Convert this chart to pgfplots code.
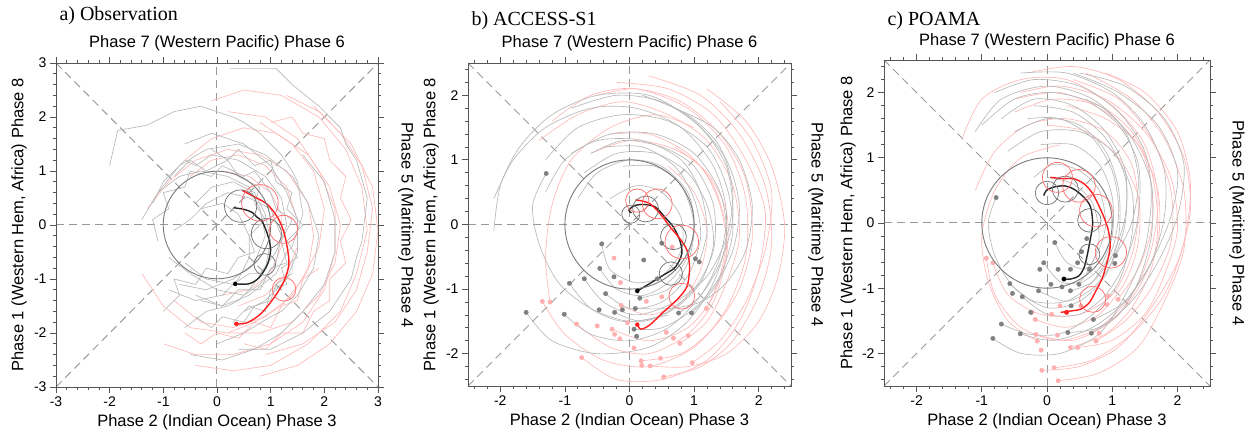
\documentclass[border=0pt]{standalone}
\usepackage{fontspec}
\setmainfont{Liberation Sans}
\newfontfamily\timesf{Liberation Serif}
\usepackage{pgfplots}
\pgfplotsset{compat=1.18}
\definecolor{framec}{HTML}{555555}
\definecolor{dashc}{HTML}{9A9A9A}
\definecolor{spgray}{HTML}{B8B8B8}
\definecolor{sppink}{HTML}{FFB8B8}
\definecolor{mainred}{HTML}{FF1E1E}
\definecolor{circred}{HTML}{FF6A6A}
\definecolor{circgray}{HTML}{707070}
\definecolor{unitc}{HTML}{7A7A7A}
\definecolor{dotgray}{HTML}{808080}
\definecolor{dotpink}{HTML}{FFAFAF}
\tikzset{lab/.style={font=\fontsize{16.5}{19}\selectfont},
  ttl/.style={font=\timesf\fontsize{20}{22}\selectfont, anchor=west},
  tk/.style={draw=framec, line width=0.8pt}}
\newcommand{\frameticks}[2]{%
  \draw[draw=framec, line width=0.9pt] (axis description cs:0,0) rectangle (axis description cs:1,1);
  \foreach \f in #1{
    \draw[tk] (axis description cs:\f,0) -- ++(0,-6pt);
    \draw[tk] (axis description cs:\f,1) -- ++(0,6pt);
    \draw[tk] (axis description cs:0,\f) -- ++(-6pt,0);
    \draw[tk] (axis description cs:1,\f) -- ++(6pt,0);
  }
  \foreach \f in #2{
    \draw[tk] (axis description cs:\f,0) -- ++(0,-3pt);
    \draw[tk] (axis description cs:\f,1) -- ++(0,3pt);
    \draw[tk] (axis description cs:0,\f) -- ++(-3pt,0);
    \draw[tk] (axis description cs:1,\f) -- ++(3pt,0);
  }}
\newcommand{\majA}{0,0.166667,0.333333,0.5,0.666667,0.833333,1}
\newcommand{\minA}{0.033333,0.066667,0.1,0.133333,0.2,0.233333,0.266667,0.3,0.366667,0.4,0.433333,0.466667,0.533333,0.566667,0.6,0.633333,0.7,0.733333,0.766667,0.8,0.866667,0.9,0.933333,0.966667}
\newcommand{\majB}{0.1,0.3,0.5,0.7,0.9}
\newcommand{\minB}{0.02,0.06,0.14,0.18,0.22,0.26,0.34,0.38,0.42,0.46,0.54,0.58,0.62,0.66,0.74,0.78,0.82,0.86,0.94,0.98}
\pgfplotsset{
  mjo/.style={scale only axis, axis on top, axis line style={draw=framec,line width=0.9pt},
    every tick/.style={draw=framec,line width=0.8pt}, tick align=outside,
    major tick length=6pt, minor tick length=3pt,
    ticklabel style={font=\fontsize{14}{16}\selectfont, text=black},
    clip=true},
  gl/.style={no marks, draw=spgray, line width=0.65pt},
  pl/.style={no marks, draw=sppink, line width=0.65pt},
  gls/.style={gl, smooth},
  pls/.style={pl, smooth},
  guide/.style={no marks, draw=dashc, line width=1pt, dash pattern=on 8pt off 5pt},
  circ/.style 2 args={only marks, mark=o, scatter, scatter/use mapped color={draw=#1, fill=none},
    mark options={line width=0.7pt},
    visualization depends on={#2*\thisrow{r} \as \crad},
    scatter/@pre marker code/.append style={/tikz/mark size=\crad}},
  mainblack/.style={no marks, draw=black!85, line width=1.4pt, smooth},
  mainr/.style={no marks, draw=mainred, line width=1.4pt, smooth},
}
\begin{document}
\begin{tikzpicture}
\useasboundingbox (0,0) rectangle (1250pt,431pt);
% ---------------- panel a ----------------
\begin{axis}[mjo, at={(56pt,44pt)}, anchor=south west, width=322pt, height=324pt,
  xmin=-3, xmax=3, ymin=-3, ymax=3,
  xtick={-3,...,3}, xticklabels={-3,-2,-1,0,1,2,3},
  ytick={-3,...,3}, yticklabels={-3,-2,-1,0,1,2,3},
  extra description/.code={
    \frameticks{\majA}{\minA}
    \node[lab] at ([yshift=20pt]axis description cs:0.5,1) {Phase 7 (Western Pacific) Phase 6};
    \node[lab] at ([yshift=-35pt]axis description cs:0.5,0) {Phase 2 (Indian Ocean) Phase 3};
    \node[lab, rotate=90] at ([xshift=-37pt]axis description cs:0,0.5) {Phase 1 (Western Hem, Africa) Phase 8};
    \node[lab, rotate=-90] at ([xshift=28pt]axis description cs:1,0.5) {Phase 5 (Maritime) Phase 4};
    \node[ttl] at ([yshift=47pt]axis description cs:0,1) {a) Observation};
  }]
\addplot[guide] coordinates {(-3,0) (3,0)};
\addplot[guide] coordinates {(0,-3) (0,3)};
\addplot[guide] coordinates {(-3,-3) (3,3)};
\addplot[guide] coordinates {(-3,3) (3,-3)};
% pink spaghetti
\addplot[pl] coordinates {(-0.4,-2.6) (0.3,-2.7) (1.0,-2.6) (1.7,-2.2) (2.3,-1.6) (2.6,-0.9) (2.8,-0.1) (2.7,0.7) (2.4,1.4) (1.9,2.0) (1.2,2.4) (0.5,2.5) (-0.1,2.3)};
\addplot[pl] coordinates {(0.2,-2.0) (0.8,-2.0) (1.4,-1.8) (1.9,-1.3) (2.2,-0.7) (2.3,0.0) (2.1,0.7) (1.7,1.3) (1.1,1.7) (0.5,1.8) (-0.1,1.6) (-0.6,1.2)};
\addplot[pl] coordinates {(-0.8,-1.4) (-0.3,-1.8) (0.3,-1.9) (0.9,-1.7) (1.4,-1.3) (1.7,-0.8) (1.8,-0.2) (1.7,0.4) (1.3,1.0) (0.8,1.3) (0.2,1.4) (-0.4,1.2) (-0.9,0.8) (-1.3,0.3)};
\addplot[pl] coordinates {(0.8,-2.8) (1.5,-2.6) (2.1,-2.2) (2.6,-1.6) (2.9,-0.9) (3.0,-0.1) (2.9,0.7) (2.5,1.5) (1.9,2.1) (1.3,2.4)};
\addplot[pl] coordinates {(0.4,-1.5) (0.9,-1.3) (1.3,-0.9) (1.5,-0.4) (1.5,0.1) (1.3,0.7) (0.9,1.1) (0.4,1.3) (-0.1,1.2) (-0.5,0.9)};
\addplot[pl] coordinates {(-1.0,-2.2) (-0.4,-2.4) (0.3,-2.4) (1.0,-2.2) (1.6,-1.8) (2.0,-1.2) (2.2,-0.5) (2.2,0.3) (1.9,1.0) (1.5,1.6) (0.9,2.0) (0.2,2.1)};
\addplot[pl] coordinates {(-1.4,-0.9) (-1.0,-1.5) (-0.5,-1.9) (0.2,-2.0) (0.7,-1.8) (1.2,-1.5) (1.6,-1.0) (1.9,-0.4) (2.0,0.3) (1.8,1.0) (1.4,1.5) (0.8,1.9)};
\addplot[pl] coordinates {(0.9,-2.4) (1.6,-2.2) (2.2,-1.8) (2.6,-1.2) (2.8,-0.5) (2.9,0.3) (2.7,1.1) (2.3,1.7) (1.8,2.2)};
\addplot[pl] coordinates {(0.1,-1.3) (0.6,-1.2) (1.0,-0.9) (1.2,-0.4) (1.2,0.2) (1.0,0.6) (0.6,0.9) (0.1,1.0)};
\addplot[pl] coordinates {(0.5,-2.2) (0.9,-2.3) (1.2,-2.0) (1.6,-2.0) (1.8,-1.6) (2.1,-1.4) (2.1,-1.0) (2.4,-0.7) (2.3,-0.3) (2.5,0.1) (2.3,0.5) (2.4,0.9) (2.1,1.2) (2.0,1.6) (1.6,1.7) (1.4,2.0) (1.0,1.9)};
\addplot[pl] coordinates {(-0.6,-2.0) (-0.3,-2.2) (0.0,-2.0) (0.4,-2.1) (0.7,-1.8) (1.0,-1.9) (1.2,-1.5) (1.5,-1.4) (1.6,-1.0) (1.9,-0.8)};
% gray spaghetti
\addplot[gl] coordinates {(-2.0,1.1) (-1.85,1.75) (-1.3,1.85) (-1.0,2.0) (-0.8,2.1) (-0.3,2.2) (0.3,2.0) (0.5,1.9) (0.8,1.7) (1.2,1.3) (1.4,1.0) (1.5,0.8) (1.6,0.2) (1.4,-0.4) (1.3,-0.5) (1.1,-0.9) (0.6,-1.3) (0.1,-1.5) (-0.4,-1.3)};
\addplot[gl] coordinates {(0.25,2.9) (1.1,2.9) (1.4,2.6) (1.9,2.2) (2.3,1.8) (2.4,1.5) (2.6,1.2) (2.8,0.5) (2.7,-0.3) (2.6,-0.6) (2.5,-1.0) (2.1,-1.6) (1.6,-2.0) (1.0,-2.3) (0.4,-2.3)};
\addplot[gl] coordinates {(-1.2,0.4) (-1.0,0.8) (-0.6,1.2) (-0.4,1.1) (-0.1,1.3) (0.4,1.2) (0.9,0.9) (1.2,0.5) (1.3,0.0) (1.1,-0.5) (0.8,-0.9) (0.6,-0.9) (0.3,-1.1) (-0.2,-1.0) (-0.6,-0.7)};
\addplot[gl] coordinates {(-0.6,-1.9) (-0.2,-1.6) (0.2,-1.5) (0.4,-1.4) (0.6,-1.2) (0.9,-0.8) (1.0,-0.3) (0.9,0.2) (0.7,0.6) (0.3,0.8) (-0.1,0.7) (-0.4,0.4)};
\addplot[gl] coordinates {(0.0,-2.2) (0.5,-2.0) (1.0,-1.7) (1.2,-1.6) (1.5,-1.3) (1.8,-0.8) (1.9,-0.2) (1.7,0.4) (1.4,0.9) (0.9,1.3) (0.4,1.5) (-0.2,1.4) (-0.7,1.1) (-1.1,0.6)};
\addplot[gl] coordinates {(-0.9,-0.6) (-0.5,-0.9) (0,-1.2) (0.5,-1.3) (0.8,-1.1) (1.1,-0.7) (1.2,-0.2) (1.0,0.3) (0.6,0.5) (0.2,0.6) (-0.2,0.4) (-0.5,0.1) (-0.8,-0.1)};
\addplot[gl] coordinates {(-1.4,0.1) (-1.1,0.6) (-0.7,0.9) (-0.3,1.0) (0.2,0.9) (0.6,0.7) (0.8,0.3) (0.9,-0.2) (0.7,-0.7) (0.3,-1.0) (-0.2,-1.2) (-0.7,-1.1)};
\addplot[gl] coordinates {(0.5,-1.6) (0.9,-1.4) (1.3,-1.0) (1.5,-0.5) (1.5,0.1) (1.3,0.6) (1.0,1.1) (0.5,1.5) (-0.1,1.7) (-0.6,1.5)};
\addplot[gl] coordinates {(-0.9,-1.2) (-0.4,-1.4) (0.1,-1.3) (0.4,-1.0) (0.6,-0.6) (0.6,-0.2) (0.4,0.2) (0.1,0.4) (-0.3,0.3)};
\addplot[gl] coordinates {(-0.5,-2.4) (0.1,-2.5) (0.7,-2.3) (1.2,-2.0) (1.6,-1.6) (2.0,-1.1) (2.2,-0.5) (2.2,0.1) (2.0,0.8) (1.6,1.3)};
\addplot[gl] coordinates {(-1.0,-1.6) (-0.7,-1.3) (-0.8,-1.0) (-0.4,-1.1) (-0.2,-0.8) (0.2,-0.9) (0.4,-0.6) (0.7,-0.5) (0.6,-0.2) (0.9,0.1) (0.7,0.4) (0.8,0.7) (0.4,0.9) (0.2,1.2) (-0.2,1.0) (-0.5,1.2) (-0.8,0.9)};
\addplot[gl] coordinates {(-1.1,-0.3) (-1.2,0.1) (-0.9,0.3) (-1.0,0.6) (-0.6,0.7) (-0.5,1.0) (-0.1,0.9) (0.1,1.1) (0.5,0.9) (0.7,1.0) (1.0,0.6) (1.1,0.3) (1.4,0.1) (1.2,-0.3) (1.3,-0.7) (1.0,-0.8) (0.8,-1.2) (0.4,-1.2) (0.1,-1.5) (-0.3,-1.4)};
\addplot[gl] coordinates {(0.3,-1.8) (0.6,-1.5) (0.9,-1.6) (1.0,-1.2) (1.3,-1.1) (1.2,-0.8) (1.5,-0.6) (1.3,-0.3) (1.6,0.0) (1.3,0.3) (1.4,0.6) (1.1,0.8) (1.0,1.2) (0.7,1.1) (0.4,1.4) (0.2,1.2) (-0.1,1.4)};
\addplot[gl] coordinates {(-0.4,-1.7) (-0.1,-1.9) (0.1,-1.7) (0.5,-1.8) (0.7,-1.5) (1.0,-1.4) (1.1,-1.1) (1.4,-0.9) (1.4,-0.6)};
% unit circle
\addplot[circ={unitc}{53.8}, mark options={line width=0.9pt}] table[row sep=\\] {x y r\\ 0 0 1\\};
% uncertainty circles
\addplot[circ={circgray}{53.8}] table[row sep=\\] {x y r\\ 0.44 0.35 0.30\\ 0.92 -0.16 0.28\\ 0.89 -0.73 0.20\\};
\addplot[circ={circred}{53.8}] table[row sep=\\] {x y r\\ 0.80 0.41 0.34\\ 1.24 -0.08 0.26\\ 1.25 -1.19 0.22\\};
% mean trajectories
\addplot[mainblack] coordinates {(0.34,-1.09) (0.59,-1.09) (0.78,-0.98) (0.94,-0.73) (1.0,-0.45) (0.94,-0.17) (0.84,0.07) (0.75,0.14) (0.66,0.23) (0.5,0.29) (0.31,0.32)};
\addplot[mainr] coordinates {(0.36,-1.83) (0.56,-1.81) (0.81,-1.65) (1.06,-1.35) (1.25,-1.04) (1.34,-0.73) (1.31,-0.42) (1.24,-0.11) (1.13,0.14) (0.94,0.38) (0.72,0.51) (0.47,0.64)};
\addplot[only marks, mark=*, mark size=2pt, color=black] coordinates {(0.34,-1.09)};
\addplot[only marks, mark=*, mark size=2pt, color=mainred] coordinates {(0.36,-1.83)};
\end{axis}
% ---------------- panel b ----------------
\begin{axis}[mjo, at={(468pt,45pt)}, anchor=south west, width=323pt, height=323pt,
  xmin=-2.5, xmax=2.5, ymin=-2.5, ymax=2.5,
  xtick={-2,...,2}, xticklabels={-2,-1,0,1,2},
  ytick={-2,...,2}, yticklabels={-2,-1,0,1,2},
  extra description/.code={
    \frameticks{\majB}{\minB}
    \node[lab] at ([yshift=20pt]axis description cs:0.5,1) {Phase 7 (Western Pacific) Phase 6};
    \node[lab] at ([yshift=-35pt]axis description cs:0.5,0) {Phase 2 (Indian Ocean) Phase 3};
    \node[lab, rotate=90] at ([xshift=-37pt]axis description cs:0,0.5) {Phase 1 (Western Hem, Africa) Phase 8};
    \node[lab, rotate=-90] at ([xshift=25pt]axis description cs:1,0.5) {Phase 5 (Maritime) Phase 4};
    \node[ttl] at ([yshift=42pt]axis description cs:0,1) {b) ACCESS-S1};
  }]
\addplot[guide] coordinates {(-2.5,0) (2.5,0)};
\addplot[guide] coordinates {(0,-2.5) (0,2.5)};
\addplot[guide] coordinates {(-2.5,-2.5) (2.5,2.5)};
\addplot[guide] coordinates {(-2.5,2.5) (2.5,-2.5)};
% pink spaghetti
\addplot[pls] coordinates {(-1.35,-1.19) (-1.0,-1.7) (-0.4,-2.1) (0.3,-2.2) (1.0,-1.9) (1.5,-1.3) (1.8,-0.5) (1.8,0.4) (1.5,1.2) (0.9,1.8) (0.1,2.1) (-0.6,2.0) (-1.2,1.6)};
\addplot[pls] coordinates {(-0.74,-2.06) (-0.2,-2.4) (0.5,-2.4) (1.2,-2.1) (1.7,-1.5) (2.0,-0.7) (2.1,0.2) (1.8,1.0) (1.3,1.7) (0.6,2.1) (-0.2,2.2)};
\addplot[pls] coordinates {(0.53,-2.36) (1.1,-2.2) (1.6,-1.8) (2.0,-1.1) (2.2,-0.3) (2.1,0.6) (1.7,1.4) (1.1,2.0) (0.3,2.3)};
\addplot[pls] coordinates {(0.97,-2.14) (1.4,-1.8) (1.8,-1.2) (2.1,-0.4) (2.2,0.5) (1.9,1.3) (1.4,1.9)};
\addplot[pls] coordinates {(-0.27,-1.62) (0.3,-1.8) (0.9,-1.6) (1.3,-1.1) (1.5,-0.4) (1.4,0.3) (1.1,0.9) (0.6,1.2) (0.0,1.3) (-0.6,1.1)};
\addplot[pls] coordinates {(0.78,-1.84) (1.2,-1.5) (1.5,-0.9) (1.7,-0.2) (1.6,0.6) (1.2,1.3) (0.6,1.7) (-0.1,1.9) (-0.8,1.7) (-1.4,1.3)};
\addplot[pls] coordinates {(-0.82,-1.54) (-0.3,-1.9) (0.3,-2.0) (0.9,-1.7) (1.3,-1.2) (1.5,-0.5) (1.5,0.2) (1.2,0.8) (0.7,1.2)};
\addplot[pls] coordinates {(0.18,-2.11) (0.8,-2.0) (1.3,-1.6) (1.7,-1.0) (1.9,-0.2) (1.8,0.7) (1.4,1.4) (0.8,1.9) (0.1,2.1) (-0.5,2.0)};
\addplot[pls] coordinates {(1.19,-1.3) (1.4,-0.8) (1.5,-0.1) (1.3,0.6) (0.9,1.1) (0.3,1.4) (-0.3,1.4)};
\addplot[pls] coordinates {(-0.13,-1.25) (0.3,-1.4) (0.8,-1.2) (1.1,-0.7) (1.2,-0.1) (1.0,0.5) (0.6,0.9)};
\addplot[pls] coordinates {(-1.23,-1.2) (-1.3,-0.5) (-1.2,0.3) (-0.9,1.0) (-0.3,1.5) (0.4,1.7) (1.0,1.5)};
\addplot[pls] coordinates {(0.32,-2.19) (0.9,-2.2) (1.5,-2.0) (2.0,-1.5) (2.3,-0.8) (2.4,0.0) (2.2,0.9) (1.8,1.6) (1.2,2.1)};
% gray spaghetti
\addplot[gls] coordinates {(-1.6,-1.36) (-1.2,-1.8) (-0.5,-2.0) (0.3,-1.9) (0.9,-1.5) (1.3,-0.9) (1.5,-0.2) (1.4,0.5) (1.0,1.1) (0.4,1.4) (-0.3,1.4) (-0.9,1.1)};
\addplot[gls] coordinates {(-1.01,-1.39) (-0.6,-1.7) (0.0,-1.8) (0.6,-1.6) (1.1,-1.1) (1.4,-0.5) (1.5,0.2) (1.3,0.9) (0.8,1.5) (0.1,1.8) (-0.6,1.8) (-1.3,1.5) (-1.8,1.0) (-2.1,0.4)};
\addplot[gls] coordinates {(-0.46,-0.68) (-0.2,-1.0) (0.2,-1.1) (0.6,-0.9) (0.9,-0.5) (1.0,0.0) (0.9,0.5) (0.5,0.9) (0.0,1.0) (-0.5,0.8) (-0.8,0.4)};
\addplot[gls] coordinates {(0.07,-1.62) (0.5,-1.6) (1.0,-1.3) (1.4,-0.8) (1.6,-0.1) (1.5,0.6) (1.2,1.2) (0.6,1.6) (-0.1,1.7) (-0.8,1.5) (-1.3,1.0)};
\addplot[gls] coordinates {(0.96,-1.37) (1.3,-1.0) (1.6,-0.4) (1.7,0.3) (1.5,1.0) (1.0,1.6) (0.3,2.0) (-0.5,2.0) (-1.2,1.7) (-1.7,1.2) (-2.0,0.6) (-2.1,-0.1)};
\addplot[gls] coordinates {(-0.23,-1.36) (0.2,-1.5) (0.7,-1.3) (1.1,-0.9) (1.3,-0.3) (1.2,0.3) (0.9,0.8) (0.4,1.1) (-0.2,1.1) (-0.7,0.8)};
\addplot[gls] coordinates {(-0.93,-0.91) (-0.6,-1.3) (-0.1,-1.5) (0.5,-1.4) (1.0,-1.0) (1.3,-0.4) (1.3,0.3) (1.0,0.9) (0.5,1.2) (-0.1,1.3) (-0.6,1.1)};
\addplot[gls] coordinates {(1.08,-0.58) (1.2,-0.1) (1.1,0.5) (0.8,1.0) (0.2,1.3) (-0.5,1.3) (-1.0,1.0) (-1.3,0.5)};
\addplot[gls] coordinates {(-0.37,-1.07) (0.0,-1.3) (0.5,-1.2) (0.9,-0.8) (1.1,-0.2) (1.0,0.4) (0.7,0.9) (0.2,1.2) (-0.4,1.2)};
\addplot[gls] coordinates {(0.76,-1.37) (1.1,-1.1) (1.4,-0.6) (1.6,0.1) (1.5,0.9) (1.1,1.5) (0.5,1.9) (-0.2,2.0) (-0.9,1.8)};
\addplot[gls] coordinates {(0.16,-1.14) (0.6,-1.0) (0.9,-0.6) (1.0,0.0) (0.8,0.6) (0.4,0.9) (-0.1,0.9)};
\addplot[gls] coordinates {(-0.7,-0.84) (-0.4,-1.2) (0.1,-1.4) (0.7,-1.2) (1.2,-0.8) (1.5,-0.2) (1.6,0.5) (1.4,1.2) (0.9,1.7) (0.2,2.0)};
\addplot[gls] coordinates {(-1.29,0.79) (-1.5,0.3) (-1.4,-0.3) (-1.1,-0.9) (-0.6,-1.3) (0.0,-1.5) (0.6,-1.4)};
\addplot[gls] coordinates {(-0.43,-0.3) (-0.3,-0.7) (0.1,-0.9) (0.5,-0.8) (0.8,-0.4) (0.8,0.1) (0.5,0.5) (0.1,0.6) (-0.3,0.4)};
\addplot[gls] coordinates {(0.09,-1.3) (0.6,-1.3) (1.1,-1.2) (1.5,-0.9) (1.8,-0.4) (1.9,0.3) (1.7,1.0) (1.3,1.5) (0.7,1.8)};
% dots
\addplot[only marks, mark=*, mark size=2.2pt, color=dotpink] coordinates {(-1.35,-1.19) (-1.23,-1.2) (-0.82,-1.54) (-0.74,-2.06) (-0.5,-1.57) (-0.27,-1.62) (-0.23,-1.7) (-0.15,-1.77) (-0.13,-1.25) (-0.03,-1.52) (0.07,-1.91) (0.18,-2.11) (0.19,-2.18) (0.32,-2.19) (0.48,-2.07) (0.53,-2.36) (0.57,-1.67) (0.68,-1.76) (0.78,-1.84) (0.91,-1.72) (0.97,-2.14) (1.19,-1.3) (-0.24,-0.52) (0.66,-0.35) (-0.14,-0.9) (0.5,-1.12) (0.26,-1.19)};
\addplot[only marks, mark=*, mark size=2.2pt, color=dotgray] coordinates {(-1.29,0.79) (-0.43,-0.3) (-0.46,-0.68) (-0.7,-0.84) (-0.24,-0.81) (-0.93,-0.91) (-0.37,-1.07) (-1.6,-1.36) (-1.01,-1.39) (-0.47,-1.32) (-0.23,-1.36) (-0.11,-1.32) (0.09,-1.3) (0.16,-1.14) (0.07,-1.62) (0.11,-1.73) (0.22,-0.55) (0.5,-0.29) (0.76,-1.37) (0.96,-1.37) (1.02,-0.53) (1.08,-0.58) (0.43,-0.84)};
% circles
\addplot[circ={unitc}{64.6}, mark options={line width=0.9pt}] table[row sep=\\] {x y r\\ 0 0 1\\};
\addplot[circ={circgray}{64.6}] table[row sep=\\] {x y r\\ 0.02 0.16 0.14\\ 0.25 0.24 0.20\\ 0.68 -0.19 0.20\\ 0.64 -0.76 0.18\\};
\addplot[circ={circred}{64.6}] table[row sep=\\] {x y r\\ 0.12 0.37 0.18\\ 0.43 0.32 0.23\\ 0.81 -0.27 0.26\\ 0.81 -1.11 0.20\\};
\addplot[mainblack] coordinates {(0.12,-1.03) (0.32,-0.91) (0.53,-0.78) (0.71,-0.66) (0.81,-0.45) (0.78,-0.25) (0.68,-0.04) (0.55,0.11) (0.4,0.27) (0.22,0.31) (0.07,0.29) (-0.01,0.22) (0.03,0.18)};
\addplot[mainr] coordinates {(0.12,-1.55) (0.18,-1.62) (0.32,-1.55) (0.53,-1.35) (0.73,-1.17) (0.89,-0.96) (0.93,-0.66) (0.89,-0.4) (0.78,-0.22) (0.63,-0.04) (0.48,0.16) (0.32,0.32) (0.17,0.37) (0.09,0.38)};
\addplot[only marks, mark=*, mark size=2pt, color=black] coordinates {(0.12,-1.03)};
\addplot[only marks, mark=*, mark size=2pt, color=mainred] coordinates {(0.12,-1.55)};
\end{axis}
% ---------------- panel c ----------------
\begin{axis}[mjo, at={(884pt,45pt)}, anchor=south west, width=326pt, height=326pt,
  xmin=-2.5, xmax=2.5, ymin=-2.5, ymax=2.5,
  xtick={-2,...,2}, xticklabels={-2,-1,0,1,2},
  ytick={-2,...,2}, yticklabels={-2,-1,0,1,2},
  extra description/.code={
    \frameticks{\majB}{\minB}
    \node[lab] at ([yshift=19pt]axis description cs:0.5,1) {Phase 7 (Western Pacific) Phase 6};
    \node[lab] at ([yshift=-35pt]axis description cs:0.5,0) {Phase 2 (Indian Ocean) Phase 3};
    \node[lab, rotate=90] at ([xshift=-36pt]axis description cs:0,0.5) {Phase 1 (Western Hem, Africa) Phase 8};
    \node[lab, rotate=-90] at ([xshift=27pt]axis description cs:1,0.5) {Phase 5 (Maritime) Phase 4};
    \node[ttl] at ([yshift=39pt]axis description cs:0,1) {c) POAMA};
  }]
\addplot[guide] coordinates {(-2.5,0) (2.5,0)};
\addplot[guide] coordinates {(0,-2.5) (0,2.5)};
\addplot[guide] coordinates {(-2.5,-2.5) (2.5,2.5)};
\addplot[guide] coordinates {(-2.5,2.5) (2.5,-2.5)};
% pink
\addplot[pls] coordinates {(-0.93,-0.54) (-0.8,-1.1) (-0.4,-1.6) (0.2,-1.8) (0.8,-1.6) (1.3,-1.1) (1.6,-0.4) (1.7,0.4) (1.5,1.2) (1.0,1.8) (0.3,2.2) (-0.4,2.2) (-1.0,1.9) (-1.3,1.3)};
\addplot[pls] coordinates {(-0.08,-2.26) (0.5,-2.2) (1.1,-1.9) (1.6,-1.3) (2.0,-0.6) (2.2,0.2) (2.1,1.0) (1.7,1.7) (1.1,2.2) (0.4,2.4) (-0.3,2.3)};
\addplot[pls] coordinates {(0.17,-2.42) (0.8,-2.3) (1.4,-1.9) (1.8,-1.2) (2.1,-0.4) (2.1,0.5) (1.8,1.3) (1.3,1.9) (0.6,2.3)};
\addplot[pls] coordinates {(-0.17,-1.71) (0.4,-1.8) (1.0,-1.5) (1.4,-1.0) (1.7,-0.3) (1.7,0.5) (1.4,1.2) (0.9,1.7) (0.2,2.0) (-0.5,1.9)};
\addplot[pls] coordinates {(0.75,-1.81) (1.2,-1.5) (1.6,-1.0) (1.9,-0.3) (1.9,0.5) (1.6,1.3) (1.1,1.9) (0.4,2.2)};
\addplot[pls] coordinates {(0.36,-1.91) (0.9,-1.7) (1.3,-1.3) (1.6,-0.7) (1.7,0.0) (1.6,0.8) (1.3,1.4) (0.8,1.8) (0.1,1.9) (-0.5,1.7)};
\addplot[pls] coordinates {(-0.83,-0.61) (-0.6,-1.1) (-0.1,-1.4) (0.5,-1.4) (1.0,-1.1) (1.3,-0.5) (1.4,0.2) (1.3,0.9) (0.9,1.4) (0.3,1.6) (-0.3,1.5) (-0.8,1.1) (-1.1,0.5)};
\addplot[pls] coordinates {(1.09,-1.17) (1.4,-0.7) (1.6,-0.1) (1.6,0.6) (1.4,1.2) (0.9,1.6) (0.3,1.8)};
\addplot[pls] coordinates {(-0.18,-1.48) (0.3,-1.6) (0.8,-1.4) (1.2,-0.9) (1.4,-0.3) (1.4,0.4) (1.1,1.0) (0.6,1.4) (0.0,1.5)};
\addplot[pls] coordinates {(0.47,-1.91) (1.0,-1.8) (1.5,-1.4) (1.8,-0.8) (2.0,-0.1) (1.9,0.7) (1.5,1.4) (0.9,1.9) (0.2,2.1) (-0.4,2.0)};
\addplot[pls] coordinates {(-0.15,-1.81) (-0.6,-1.5) (-0.9,-0.9) (-1.0,-0.2) (-0.8,0.5) (-0.4,1.0) (0.2,1.2)};
\addplot[pls] coordinates {(0.11,-2.22) (0.7,-2.1) (1.3,-1.7) (1.8,-1.1) (2.1,-0.3) (2.2,0.6) (2.0,1.4) (1.5,2.0) (0.9,2.3)};
% gray
\addplot[gls] coordinates {(-0.78,0.39) (-0.9,0.0) (-0.8,-0.5) (-0.5,-1.0) (0.0,-1.3) (0.5,-1.2) (0.9,-0.8) (1.1,-0.2) (1.1,0.5) (0.9,1.1) (0.5,1.5) (0.0,1.6) (-0.5,1.4)};
\addplot[gls] coordinates {(-0.83,-1.77) (-0.4,-2.0) (0.2,-2.0) (0.8,-1.7) (1.2,-1.1) (1.5,-0.4) (1.6,0.4) (1.5,1.1) (1.1,1.7) (0.5,2.1) (-0.2,2.2) (-0.8,2.0)};
\addplot[gls] coordinates {(-0.57,-0.93) (-0.2,-1.2) (0.3,-1.2) (0.7,-0.9) (1.0,-0.4) (1.1,0.2) (1.0,0.8) (0.7,1.3) (0.2,1.6) (-0.3,1.6)};
\addplot[gls] coordinates {(-0.41,-1.7) (0.1,-1.8) (0.7,-1.6) (1.2,-1.2) (1.6,-0.6) (1.8,0.1) (1.8,0.8) (1.5,1.5) (1.0,2.0) (0.3,2.3) (-0.4,2.3)};
\addplot[gls] coordinates {(0.12,-0.3) (0.3,-0.6) (0.6,-0.7) (0.8,-0.4) (0.9,0.0) (0.8,0.5) (0.5,0.8) (0.1,0.9) (-0.2,0.7)};
\addplot[gls] coordinates {(0.68,-1.69) (1.1,-1.4) (1.4,-0.9) (1.6,-0.2) (1.6,0.6) (1.3,1.3) (0.8,1.8) (0.1,2.0) (-0.5,1.9) (-1.0,1.5)};
\addplot[gls] coordinates {(-0.13,-1.04) (0.3,-1.2) (0.7,-1.0) (1.0,-0.6) (1.2,0.0) (1.2,0.7) (0.9,1.3) (0.4,1.7) (-0.2,1.8)};
\addplot[gls] coordinates {(0.36,-1.04) (0.7,-0.9) (1.0,-0.5) (1.2,0.1) (1.2,0.8) (0.9,1.4) (0.4,1.8) (-0.2,1.9) (-0.7,1.6)};
\addplot[gls] coordinates {(-0.7,-1.55) (-0.3,-1.7) (0.2,-1.7) (0.7,-1.4) (1.1,-0.9) (1.3,-0.2) (1.3,0.5) (1.0,1.1) (0.5,1.4) (-0.1,1.4) (-0.6,1.1)};
\addplot[gls] coordinates {(1.05,-0.5) (1.3,0.0) (1.4,0.7) (1.2,1.4) (0.7,1.9) (0.0,2.1) (-0.7,1.9) (-1.1,1.4)};
\addplot[gls] coordinates {(-0.38,-1.13) (0.0,-1.4) (0.5,-1.4) (0.9,-1.1) (1.2,-0.6) (1.4,0.1) (1.4,0.9) (1.1,1.5) (0.6,1.9)};
\addplot[gls] coordinates {(0.49,-0.94) (0.8,-0.7) (1.0,-0.2) (1.0,0.4) (0.8,0.9) (0.4,1.2) (-0.1,1.2)};
\addplot[gls] coordinates {(0.71,-1.48) (1.2,-1.2) (1.6,-0.6) (1.9,0.1) (2.0,0.8) (1.7,1.5) (1.1,2.0) (0.4,2.3)};
\addplot[gls] coordinates {(-0.05,-0.61) (0.2,-0.9) (0.5,-0.9) (0.7,-0.6) (0.8,-0.2) (0.7,0.3) (0.4,0.6) (0.0,0.7)};
\addplot[gls] coordinates {(0.32,-1.68) (0.8,-1.6) (1.3,-1.2) (1.7,-0.6) (2.0,0.1) (2.1,0.9) (1.8,1.6) (1.2,2.1) (0.5,2.3)};
% dots
\addplot[only marks, mark=*, mark size=2.2pt, color=dotpink] coordinates {(-0.93,-0.54) (-0.83,-0.61) (-0.23,-1.37) (-0.18,-1.48) (-0.17,-1.71) (-0.15,-1.81) (-0.09,-1.95) (-0.08,-2.26) (0.11,-2.22) (0.17,-2.42) (0.16,-1.72) (0.07,-1.4) (0.36,-1.91) (0.47,-1.91) (0.75,-1.81) (0.8,-1.69) (1.09,-1.17) (0.94,-1.12) (0.92,-1.25) (0.2,-1.27) (0.52,-1.27)};
\addplot[only marks, mark=*, mark size=2.2pt, color=dotgray] coordinates {(-0.78,0.39) (0.12,-0.3) (0.61,-0.24) (-0.05,-0.61) (-0.11,-0.71) (0.17,-0.71) (0.53,-0.44) (0.47,-0.61) (0.36,-0.71) (0.65,-0.71) (1.05,-0.5) (1.04,-0.62) (-0.57,-0.93) (-0.53,-1.08) (-0.38,-1.13) (-0.13,-1.04) (0.06,-0.94) (0.23,-0.98) (0.36,-1.04) (0.49,-0.94) (-0.7,-1.55) (-0.41,-1.7) (-0.83,-1.77) (0.32,-1.68) (0.68,-1.69) (0.71,-1.48) (0.37,-1.27) (-0.25,-1.37)};
\addplot[circ={unitc}{65.2}, mark options={line width=0.9pt}] table[row sep=\\] {x y r\\ 0 0 1\\};
\addplot[circ={circgray}{65.2}] table[row sep=\\] {x y r\\ 0.0 0.46 0.18\\ 0.28 0.52 0.20\\ 0.65 0.04 0.18\\ 0.65 -0.48 0.16\\};
\addplot[circ={circred}{65.2}] table[row sep=\\] {x y r\\ 0.16 0.70 0.23\\ 0.49 0.57 0.25\\ 0.75 0.19 0.25\\ 0.98 -0.45 0.24\\ 0.70 -1.17 0.20\\};
\addplot[mainblack] coordinates {(0.26,-0.86) (0.36,-0.86) (0.49,-0.81) (0.57,-0.68) (0.62,-0.48) (0.66,-0.27) (0.7,-0.02) (0.67,0.24) (0.57,0.39) (0.41,0.52) (0.26,0.57) (0.1,0.55) (-0.01,0.5) (-0.05,0.42)};
\addplot[mainr] coordinates {(0.21,-1.37) (0.36,-1.35) (0.52,-1.32) (0.65,-1.22) (0.75,-1.04) (0.85,-0.84) (0.94,-0.53) (0.97,-0.32) (0.93,-0.07) (0.83,0.19) (0.7,0.45) (0.57,0.6) (0.41,0.68) (0.26,0.68) (0.05,0.7)};
\addplot[only marks, mark=*, mark size=2.2pt, color=black] coordinates {(0.26,-0.86)};
\addplot[only marks, mark=*, mark size=2.2pt, color=mainred] coordinates {(0.3,-1.37)};
\end{axis}
\end{tikzpicture}
\end{document}
